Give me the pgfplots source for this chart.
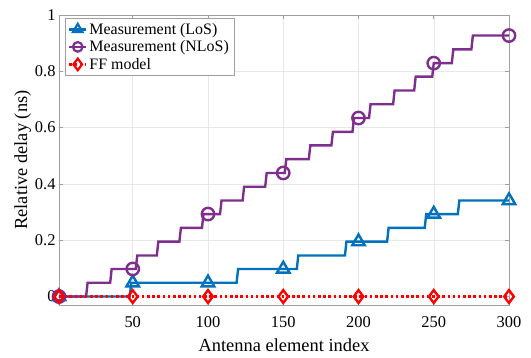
\documentclass[border=0pt]{standalone}
\usepackage{pgfplots}
\pgfplotsset{compat=1.18}
\usepackage{fontspec}
\setmainfont{Liberation Serif}
\definecolor{losblue}{RGB}{0,114,189}
\definecolor{nlospurple}{RGB}{126,47,142}
\begin{document}
\begin{tikzpicture}
\begin{axis}[
 name=ax,
 scale only axis,width=450bp,height=290bp,
 xmin=1,xmax=300,ymin=-0.03,ymax=1,
 xtick={50,100,...,300},ytick={0,0.2,...,1},
 yticklabels={0,0.2,0.4,0.6,0.8,1},
 /pgf/number format/assume math mode=true,
 tick label style={font=\fontsize{16.5}{17}\selectfont},
 xticklabel style={yshift=-8bp},
 label style={font=\fontsize{18.5}{19}\selectfont},
 xlabel={Antenna element index},ylabel={Relative delay (ns)},
 xlabel style={yshift=-4bp},ylabel style={yshift=-3bp},
 grid=major,major grid style={gray!18,line width=0.5pt},
 axis line style={gray!75,line width=0.6pt},
 tick style={gray!75,line width=0.6pt},tick align=inside,
 major tick length=4bp,
 legend style={font=\fontsize{16}{17}\selectfont,draw=gray!75,
   at={(0.013,0.99)},anchor=north west,inner sep=3pt,row sep=1pt,
   /tikz/every even column/.append style={column sep=2pt}},
 legend image post style={sharp plot},
 legend cell align=left,
]
% LoS
\addplot[losblue,line width=2.4pt,forget plot] coordinates {
 (1,0) (48,0) (49,0.049) (119,0.049) (120,0.098) (159,0.098) (160,0.146)
 (191,0.146) (192,0.195) (219,0.195) (220,0.244) (244,0.244) (245,0.293)
 (266,0.293) (267,0.341) (300,0.341)};
\addplot[losblue,only marks,mark=triangle,mark size=7.2bp,
  mark options={line width=2.4pt},forget plot] coordinates {
 (1,0) (50,0.049) (100,0.049) (150,0.098) (200,0.195) (250,0.293) (300,0.341)};
% NLoS
\addplot[nlospurple,line width=2.4pt,forget plot] coordinates {
 (1,0) (19,0) (20,0.049) (35,0.049) (36,0.098) (52,0.098) (53,0.146)
 (66,0.146) (67,0.195) (81,0.195) (82,0.244) (96,0.244) (97,0.293)
 (108,0.293) (109,0.341) (123,0.341) (124,0.390) (138,0.390) (139,0.439)
 (151,0.439) (152,0.488) (167,0.488) (168,0.537) (182,0.537) (183,0.585)
 (196,0.585) (197,0.634) (207,0.634) (208,0.683) (223,0.683) (224,0.732)
 (237,0.732) (238,0.781) (249,0.781) (250,0.829) (262,0.829) (263,0.878)
 (275,0.878) (276,0.927) (300,0.927)};
\addplot[nlospurple,only marks,mark=o,mark size=6.2bp,
  mark options={line width=2.4pt},forget plot] coordinates {
 (1,0) (50,0.098) (100,0.293) (150,0.439) (200,0.634) (250,0.829) (300,0.927)};
% FF model
\addplot[red,line width=2.4pt,dash pattern=on 2.6pt off 2.6pt,forget plot] coordinates {
 (1,0) (50,0) (100,0) (150,0) (200,0) (250,0) (300,0)};
\addplot[red,only marks,mark=diamond,mark size=6.4bp,
  mark options={line width=2.4pt},forget plot] coordinates {
 (1,0) (50,0) (100,0) (150,0) (200,0) (250,0) (300,0)};
\addlegendimage{losblue,line width=2.4pt,mark=triangle,mark size=5.5bp,
  mark options={solid,line width=2.2pt}}
\addlegendentry{Measurement (LoS)}
\addlegendimage{nlospurple,line width=2.4pt,mark=o,mark size=4.8bp,
  mark options={solid,line width=2.2pt}}
\addlegendentry{Measurement (NLoS)}
\addlegendimage{red,line width=2.4pt,dash pattern=on 2.6pt off 2.6pt,mark=diamond,mark size=5.8bp,
  mark options={solid,line width=2.2pt}}
\addlegendentry{FF model}
\end{axis}
\path ([shift={(-59bp,-53bp)}]ax.south west) ([shift={(22bp,15bp)}]ax.north east);
\end{tikzpicture}
\end{document}
